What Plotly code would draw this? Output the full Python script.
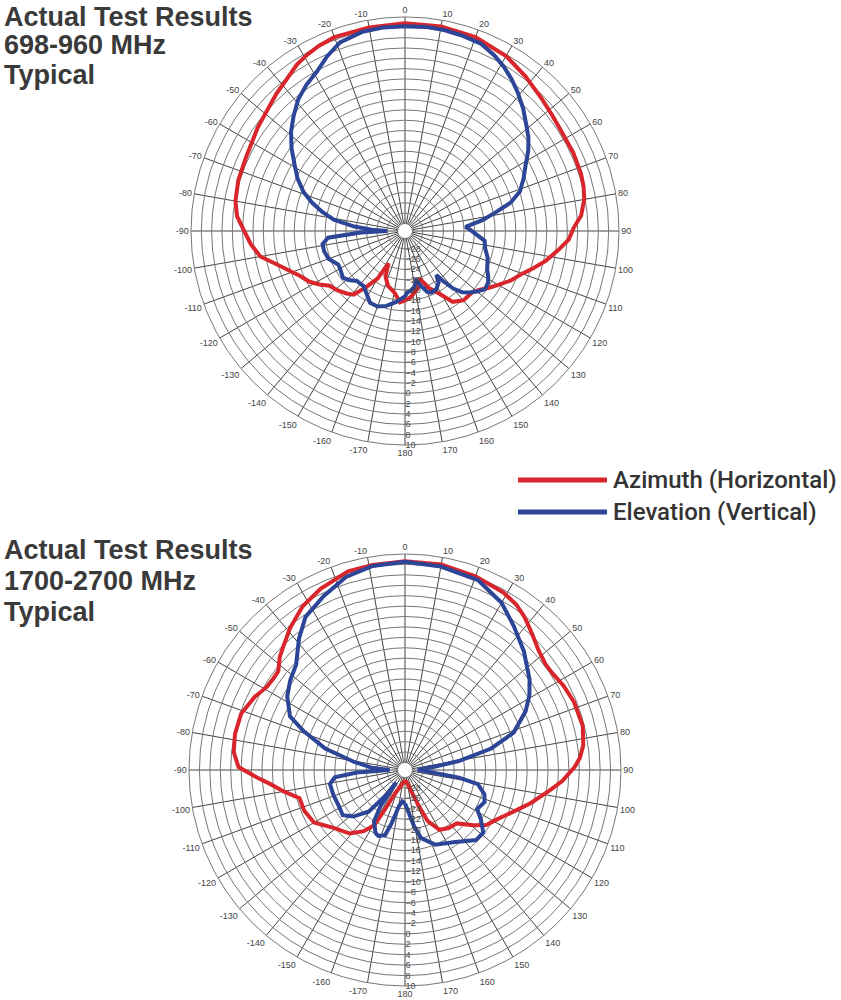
import plotly.graph_objects as go

# angles as printed on the chart (0 = boresight, clockwise positive), levels in dB
top_az_deg = [-180, -176, -170, -163, -157, -153, -150, -145, -141, -137, -131, -126, -122, -118, -113,
              -109, -105, -100, -95, -90, -85, -80, -73, -65, -60, -55, -47, -43, -38, -33, -29, -25,
              -20, -10, 0, 10, 20, 30, 38, 46, 52, 57, 65, 72, 76, 80, 85, 89, 93, 97, 102, 106, 110,
              115, 120, 124, 128, 132, 140, 146, 151, 157, 163, 168, 175]
top_az_db = [-18.0, -17.6, -19.4, -20.3, -21.8, -24.4, -20.8, -18.0, -15.6, -14.9, -14.0, -13.4, -11.9,
             -10.5, -9.3, -7.8, -6.0, -3.0, -1.5, -0.3, 1.2, 1.9, 2.3, 2.5, 2.8, 3.4, 4.3, 5.0, 5.8, 7.0,
             7.6, 8.1, 8.5, 8.6, 8.8, 8.8, 8.5, 7.7, 6.5, 5.4, 4.8, 4.5, 4.5, 4.4, 4.2, 3.8, 2.8, 1.2,
             0.3, -1.5, -3.6, -5.5, -7.3, -8.8, -10.6, -11.8, -13.0, -13.8, -13.9, -14.9, -17.5, -19.4,
             -21.8, -20.0, -18.6]

top_el_deg = [-180, -173, -166, -160, -154, -148, -143, -136, -131, -127, -122, -117, -113, -110, -104,
              -99, -95, -92, -90, -88, -85, -81, -77, -73, -69, -64, -59, -54, -49, -44, -39, -34, -29,
              -24, -19, -12, -6, 0, 6, 11, 16, 22, 27, 31, 35, 39, 44, 49, 53, 57, 61, 66, 71, 75, 78,
              82, 86, 89, 92, 97, 102, 108, 115, 119, 122, 126, 130, 134, 137, 140, 142.7, 144.5, 147,
              152, 157, 160, 164, 167, 171, 175, 178]
top_el_db = [-18.8, -17.6, -16.5, -15.9, -16.0, -17.3, -18.1, -18.0, -17.0, -16.4, -16.8, -17.0, -16.3,
             -15.7, -15.3, -15.3, -16.5, -22.9, -28.0, -25.0, -21.6, -17.5, -15.0, -12.6, -10.4, -8.3,
             -6.5, -4.3, -2.2, -0.4, 1.4, 2.7, 3.8, 5.6, 7.2, 8.0, 8.2, 8.2, 8.3, 8.2, 8.0, 7.7, 6.7,
             5.7, 4.5, 3.2, 1.5, -0.3, -1.5, -3.0, -4.7, -6.3, -7.9, -10.3, -13.2, -16.3, -19.7, -18.8,
             -17.9, -15.9, -15.6, -14.6, -13.9, -13.0, -12.5, -12.3, -13.2, -14.3, -15.2, -16.9, -19.2,
             -21.0, -19.5, -18.6, -18.5, -18.9, -20.5, -21.6, -20.4, -19.8, -19.5]

bot_az_deg = [-180, -170, -163, -157, -153, -151, -146, -139, -129, -120, -112, -105, -100, -96, -93,
              -89, -84, -78, -71, -64, -59, -55, -52, -48, -45, -39, -32, -25, -16, -9, 0, 10, 20, 29,
              34, 38, 43, 48, 53, 57, 62, 68, 76, 82, 86, 89, 94, 98, 105, 110, 114, 119, 124, 129,
              136, 143, 150, 156, 159, 163, 170]
bot_az_db = [-29.5, -28.8, -28.0, -26.5, -23.0, -19.4, -17.3, -15.3, -13.8, -11.3, -10.6, -10.5, -7.8,
             -5.5, -3.1, 0.5, 1.6, 1.9, 1.8, 0.6, -0.5, -0.7, -0.6, 0.9, 1.7, 3.6, 5.6, 6.9, 8.2, 8.4,
             8.6, 8.6, 8.1, 7.5, 6.8, 5.8, 4.3, 3.0, 2.3, 2.4, 3.0, 3.5, 3.7, 3.1, 2.2, 1.1, -1.2, -3.4,
             -6.6, -8.8, -10.2, -11.6, -12.6, -14.6, -17.2, -17.5, -18.2, -20.7, -24.0, -27.0, -28.8]

bot_el_deg = [-180, -175, -170.5, -166, -163, -158, -155, -149, -146, -144.5, -143, -139, -132, -126,
              -118, -109, -100.5, -96, -93, -90, -86, -81, -75, -69, -65, -58, -52, -46, -39, -33, -25,
              -17, -9, 0, 10, 21, 30, 37, 45, 54, 59, 64, 71, 76, 80.5, 84, 89, 94, 98, 101, 107, 112,
              118.5, 123, 128.7, 134.6, 145, 158, 166.6, 171, 176.5]
bot_el_db = [-25.0, -25.4, -24.4, -21.0, -18.4, -17.8, -18.1, -19.9, -23.0, -28.5, -25.4, -20.9, -18.1,
             -16.7, -17.0, -16.9, -16.8, -17.9, -22.2, -28.5, -25.0, -21.6, -15.6, -10.6, -7.1, -4.8,
             -3.5, -2.4, 0.9, 3.6, 5.4, 7.3, 8.2, 8.5, 8.2, 7.6, 5.6, 3.2, 0.8, -1.9, -3.6, -5.7, -9.4,
             -14.4, -21.0, -26.0, -29.0, -27.2, -21.0, -17.2, -15.5, -15.0, -15.7, -14.1, -12.2, -12.3,
             -14.6, -16.0, -18.0, -20.6, -23.9]

ring_vals = list(range(-28, 11, 2))
spoke_vals = list(range(0, 360, 10))
spoke_text = [str(a) if a <= 180 else str(a - 360) for a in spoke_vals]

RED = "#d8262c"
BLUE = "#2c4596"
W, H = 841, 1000


def closed(a):
    return list(a) + [a[0]]


def polar_axes(cx, cy, r):
    return dict(
        domain=dict(x=[(cx - r) / W, (cx + r) / W], y=[1 - (cy + r) / H, 1 - (cy - r) / H]),
        bgcolor="white",
        hole=0.035,
        radialaxis=dict(range=[-30, 10], tickvals=ring_vals, angle=-90, tickangle=-90,
                        side="counterclockwise", showline=False, ticks="",
                        gridcolor="#777", gridwidth=0.7,
                        tickfont=dict(size=9, color="#444", family="Liberation Sans")),
        angularaxis=dict(rotation=90, direction="clockwise", tickvals=spoke_vals,
                         ticktext=spoke_text, ticks="", gridcolor="#444", gridwidth=0.7,
                         linecolor="#777", linewidth=1,
                         tickfont=dict(size=9, color="#444", family="Liberation Sans")),
    )


fig = go.Figure()
fig.add_trace(go.Scatterpolar(r=closed(top_az_db), theta=closed(top_az_deg), mode="lines",
                              line=dict(color=RED, width=4), subplot="polar", showlegend=False))
fig.add_trace(go.Scatterpolar(r=closed(top_el_db), theta=closed(top_el_deg), mode="lines",
                              line=dict(color=BLUE, width=4), subplot="polar", showlegend=False))
fig.add_trace(go.Scatterpolar(r=closed(bot_az_db), theta=closed(bot_az_deg), mode="lines",
                              line=dict(color=RED, width=4), subplot="polar2", showlegend=False))
fig.add_trace(go.Scatterpolar(r=closed(bot_el_db), theta=closed(bot_el_deg), mode="lines",
                              line=dict(color=BLUE, width=4), subplot="polar2", showlegend=False))

title_font = dict(family="Liberation Sans", size=27, color="#3a3a3a", weight="bold")
annotations = [dict(text="Actual Test Results", x=2 / W, y=1, xref="paper", yref="paper",
                    xanchor="left", yanchor="top", showarrow=False, font=title_font)]
for txt, y in [("698-960 MHz", 45), ("Typical", 75),
               ("Actual Test Results", 550), ("1700-2700 MHz", 581), ("Typical", 612)]:
    annotations.append(dict(text=txt, x=2 / W, y=1 - y / H, xref="paper", yref="paper",
                            xanchor="left", yanchor="middle", showarrow=False, font=title_font))

legend_font = dict(family="Roboto", size=24, color="#333", weight=500)
shapes = []
for txt, col, y in [("Azimuth (Horizontal)", RED, 480), ("Elevation (Vertical)", BLUE, 512)]:
    shapes.append(dict(type="line", xref="paper", yref="paper", x0=518 / W, x1=607 / W,
                       y0=1 - y / H, y1=1 - y / H, line=dict(color=col, width=5)))
    annotations.append(dict(text=txt, x=611 / W, y=1 - y / H, xref="paper", yref="paper",
                            xanchor="left", yanchor="middle", showarrow=False, font=legend_font))

fig.update_layout(
    width=W, height=H,
    margin=dict(l=0, r=0, t=0, b=0),
    paper_bgcolor="white",
    polar=polar_axes(405, 231, 214),
    polar2=polar_axes(405, 770, 216),
    annotations=annotations,
    shapes=shapes,
)

# the page body has a default 8px margin; drop it so the figure sits at the window corner
fig.write_html("out.html", config={"displayModeBar": False},
               post_script="document.body.style.margin='0';")
